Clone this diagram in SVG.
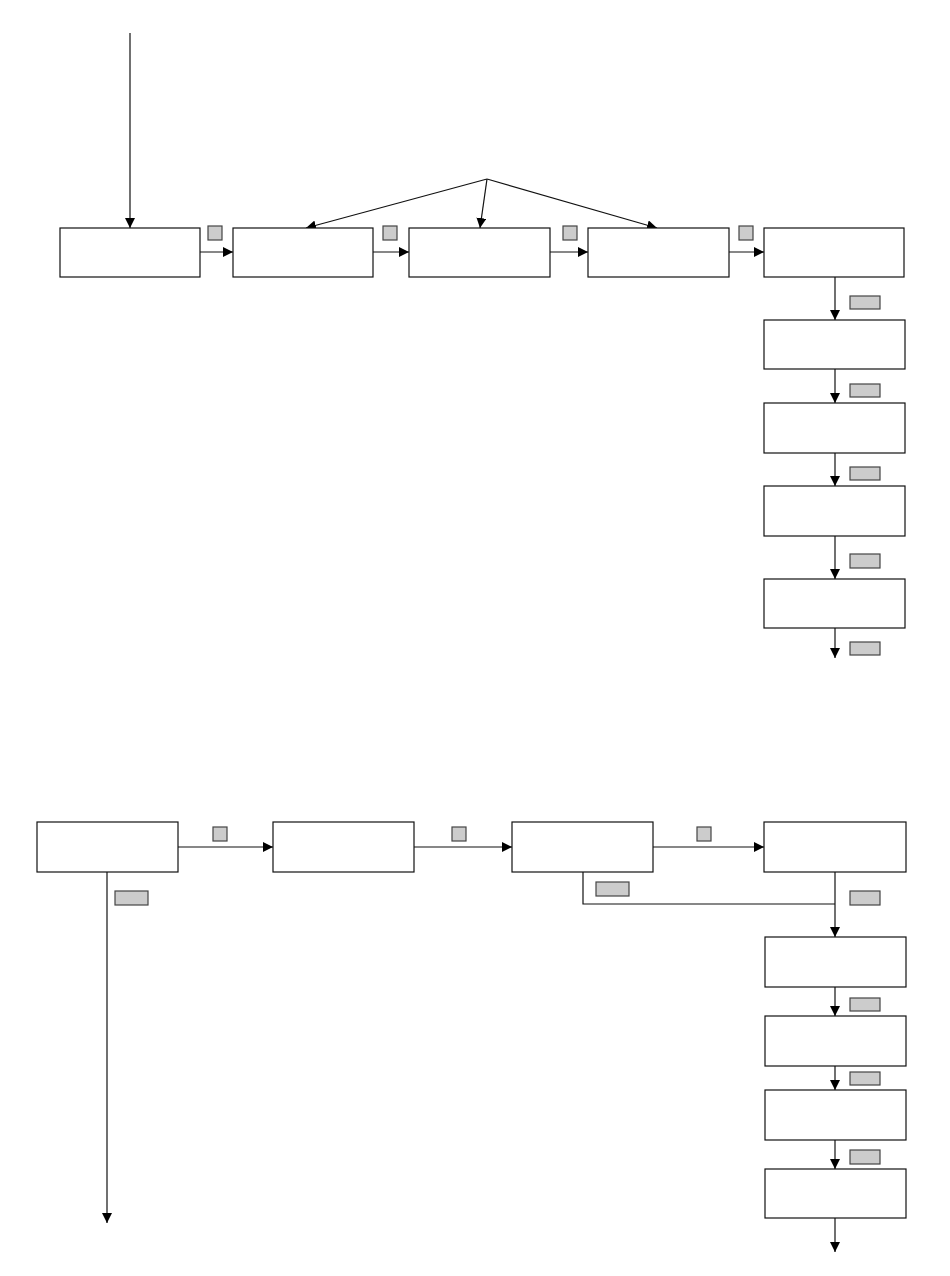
<svg xmlns="http://www.w3.org/2000/svg" width="950" height="1276" viewBox="0 0 950 1276">
<style>
.box{fill:#fff;stroke:#111;stroke-width:1.2}
.tag{fill:#ccc;stroke:#444;stroke-width:1.2}
.c{fill:none;stroke:#111;stroke-width:1.2}
</style>
<defs>
<marker id="a" markerWidth="10" markerHeight="10" refX="10" refY="5" orient="auto" markerUnits="userSpaceOnUse">
<path d="M0,0 L10,5 L0,10 Z" fill="#000"/>
</marker>
</defs>
<rect width="950" height="1276" fill="#fff"/>
<g id="connectors">
<path class="c" d="M130,33 V228" marker-end="url(#a)"/>
<path class="c" d="M487,179 L306,228" marker-end="url(#a)"/>
<path class="c" d="M487,179 L480,228" marker-end="url(#a)"/>
<path class="c" d="M487,179 L657,228" marker-end="url(#a)"/>
<path class="c" d="M200,252 H233" marker-end="url(#a)"/>
<path class="c" d="M373,252 H409" marker-end="url(#a)"/>
<path class="c" d="M550,252 H588" marker-end="url(#a)"/>
<path class="c" d="M729,252 H764" marker-end="url(#a)"/>
<path class="c" d="M835,277 V320" marker-end="url(#a)"/>
<path class="c" d="M835,369 V403" marker-end="url(#a)"/>
<path class="c" d="M835,453 V486" marker-end="url(#a)"/>
<path class="c" d="M835,536 V579" marker-end="url(#a)"/>
<path class="c" d="M835,628 V658" marker-end="url(#a)"/>
<path class="c" d="M178,847 H273" marker-end="url(#a)"/>
<path class="c" d="M414,847 H512" marker-end="url(#a)"/>
<path class="c" d="M653,847 H764" marker-end="url(#a)"/>
<path class="c" d="M107,872 V1223" marker-end="url(#a)"/>
<path class="c" d="M583,872 V904 H835"/>
<path class="c" d="M835,872 V937" marker-end="url(#a)"/>
<path class="c" d="M835,987 V1016" marker-end="url(#a)"/>
<path class="c" d="M835,1066 V1090" marker-end="url(#a)"/>
<path class="c" d="M835,1140 V1169" marker-end="url(#a)"/>
<path class="c" d="M835,1218 V1252" marker-end="url(#a)"/>
</g>
<g id="tags">
<rect class="tag" x="208" y="226" width="14" height="14"/>
<rect class="tag" x="383" y="226" width="14" height="14"/>
<rect class="tag" x="563" y="226" width="14" height="14"/>
<rect class="tag" x="739" y="226" width="14" height="14"/>
<rect class="tag" x="850" y="296" width="30" height="13"/>
<rect class="tag" x="850" y="384" width="30" height="13"/>
<rect class="tag" x="850" y="467" width="30" height="13"/>
<rect class="tag" x="850" y="554" width="30" height="14"/>
<rect class="tag" x="850" y="642" width="30" height="13"/>
<rect class="tag" x="213" y="827" width="14" height="14"/>
<rect class="tag" x="452" y="827" width="14" height="14"/>
<rect class="tag" x="697" y="827" width="14" height="14"/>
<rect class="tag" x="115" y="891" width="33" height="14"/>
<rect class="tag" x="596" y="882" width="33" height="14"/>
<rect class="tag" x="850" y="891" width="30" height="14"/>
<rect class="tag" x="850" y="998" width="30" height="13"/>
<rect class="tag" x="850" y="1072" width="30" height="13"/>
<rect class="tag" x="850" y="1150" width="30" height="14"/>
</g>
<g id="n1"><rect class="box" x="60" y="228" width="140" height="49"/></g>
<g id="n2"><rect class="box" x="233" y="228" width="140" height="49"/></g>
<g id="n3"><rect class="box" x="409" y="228" width="141" height="49"/></g>
<g id="n4"><rect class="box" x="588" y="228" width="141" height="49"/></g>
<g id="n5"><rect class="box" x="764" y="228" width="140" height="49"/></g>
<g id="n6"><rect class="box" x="764" y="320" width="141" height="49"/></g>
<g id="n7"><rect class="box" x="764" y="403" width="141" height="50"/></g>
<g id="n8"><rect class="box" x="764" y="486" width="141" height="50"/></g>
<g id="n9"><rect class="box" x="764" y="579" width="141" height="49"/></g>
<g id="m1"><rect class="box" x="37" y="822" width="141" height="50"/></g>
<g id="m2"><rect class="box" x="273" y="822" width="141" height="50"/></g>
<g id="m3"><rect class="box" x="512" y="822" width="141" height="50"/></g>
<g id="m4"><rect class="box" x="764" y="822" width="142" height="50"/></g>
<g id="m5"><rect class="box" x="765" y="937" width="141" height="50"/></g>
<g id="m6"><rect class="box" x="765" y="1016" width="141" height="50"/></g>
<g id="m7"><rect class="box" x="765" y="1090" width="141" height="50"/></g>
<g id="m8"><rect class="box" x="765" y="1169" width="141" height="49"/></g>
</svg>
